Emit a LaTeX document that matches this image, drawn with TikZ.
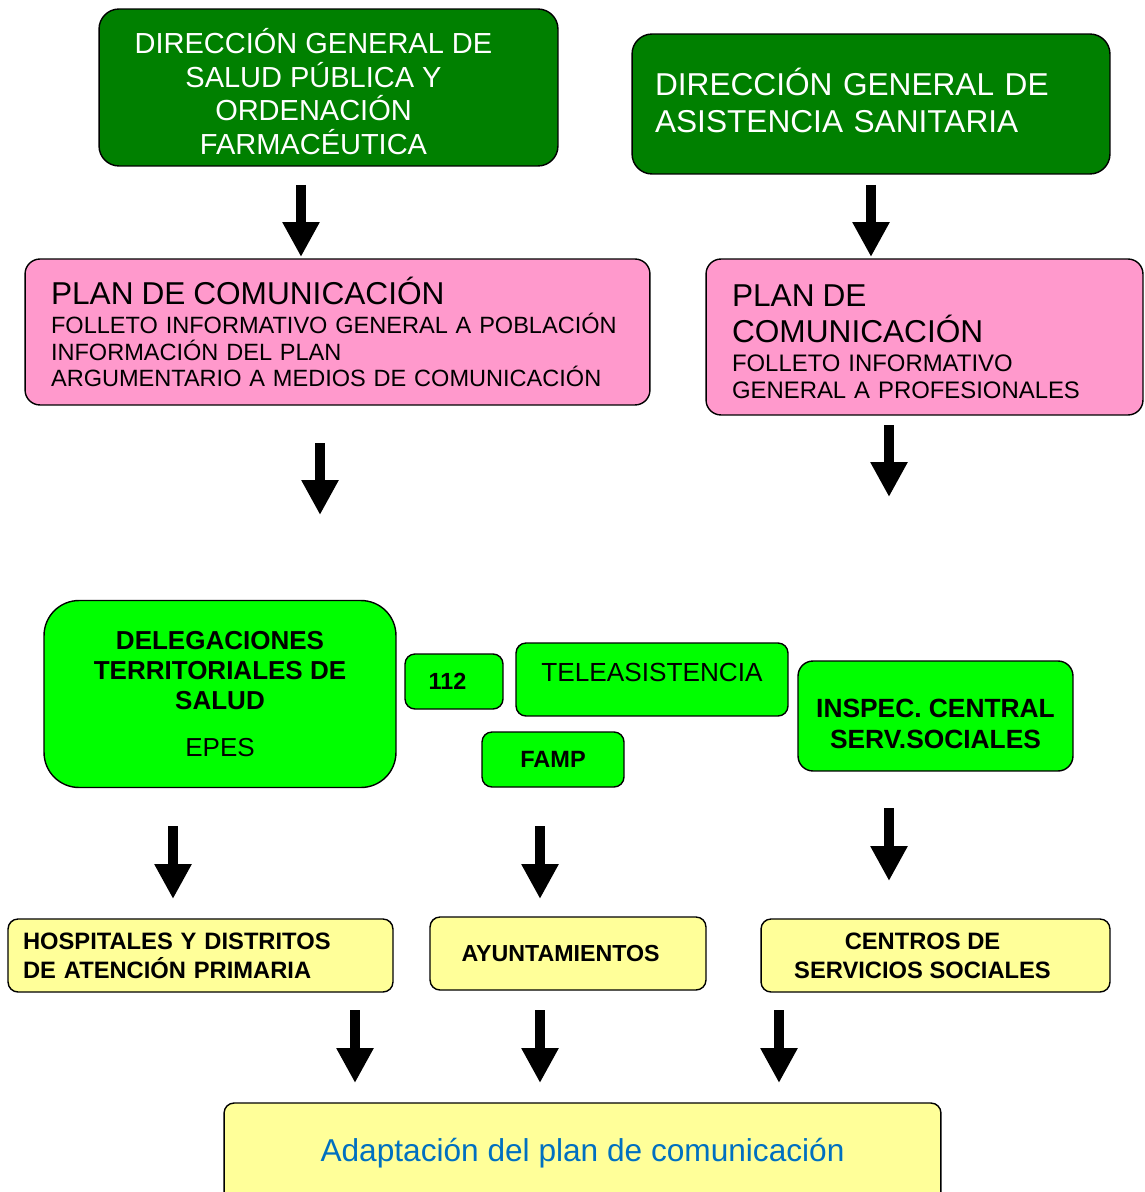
\documentclass[tikz,border=0pt]{standalone}
\usepackage{fontspec}
\setmainfont{Liberation Sans}
\usetikzlibrary{arrows.meta}
\definecolor{verdeosc}{RGB}{0,128,0}
\definecolor{verdelima}{RGB}{0,255,0}
\definecolor{rosa}{RGB}{255,153,204}
\definecolor{amarillo}{RGB}{255,255,153}
\definecolor{azul}{RGB}{0,112,192}

\tikzset{
  caja/.style={draw, line width=0.8pt, rounded corners=#1, inner sep=0pt},
  caja/.default=0.2cm,
  flecha/.style={line width=0.2cm, -{Triangle[length=0.7cm,width=0.7cm]}}
}
% linea con hueco a la derecha (texto algo a la izquierda)
\newcommand{\izq}[2]{\hbox{#2\kern#1}}

\begin{document}
\begin{tikzpicture}[x=0.02cm,y=-0.02cm]
\useasboundingbox (0,0) rectangle (1144,1192);
\clip (0,0) rectangle (1144,1192);

% direcciones generales
\node [caja=0.4cm, fill=verdeosc, text=white, align=center, minimum width=9.18cm, minimum height=3.14cm,
  font=\fontsize{16.5}{19.3}\selectfont] (dgsp) at (328.5,87.5)
  {\rule{0pt}{19pt}\izq{0.6cm}{DIRECCIÓN GENERAL DE}\\\izq{0.6cm}{SALUD PÚBLICA Y}\\\izq{0.6cm}{ORDENACIÓN}\\\izq{0.6cm}{FARMACÉUTICA}};
\node [caja=0.4cm, fill=verdeosc, text=white, align=left, text width=8.64cm, inner xsep=0.46cm, minimum height=2.8cm,
  font=\fontsize{18}{21}\selectfont] (dgas) at (871,104)
  {DIRECCIÓN GENERAL DE\\ASISTENCIA SANITARIA\rule[-4.5pt]{0pt}{1pt}};

% planes de comunicacion
\node [caja=0.3cm, fill=rosa, align=left, text width=11.46cm, inner xsep=0.52cm, minimum height=2.92cm,
  font=\fontsize{13.4}{15.3}\selectfont] (plan1) at (337.5,332)
  {{\fontsize{18}{21}\selectfont PLAN DE COMUNICACIÓN\par}\vspace{1.1pt}FOLLETO INFORMATIVO GENERAL A POBLACIÓN\\INFORMACIÓN DEL PLAN\\ARGUMENTARIO A MEDIOS DE COMUNICACIÓN};
\node [caja=0.3cm, fill=rosa, align=left, text width=7.7cm, inner xsep=0.52cm, minimum height=3.12cm,
  font=\fontsize{13.6}{15.3}\selectfont] (plan2) at (924.5,337)
  {{\fontsize{18}{20.4}\selectfont \rule{0pt}{18pt}PLAN DE\\COMUNICACIÓN\par}\vspace{1.1pt}FOLLETO INFORMATIVO\\GENERAL A PROFESIONALES};

% organismos
\node [caja=0.7cm, fill=verdelima, align=center, minimum width=7.04cm, minimum height=3.74cm,
  font=\fontsize{14.8}{17.2}\selectfont\bfseries] (deleg) at (220,694)
  {DELEGACIONES\\TERRITORIALES DE\\SALUD\\[9.2pt]{\mdseries EPES}};
\node [caja, fill=verdelima, minimum width=1.96cm, minimum height=1.1cm,
  font=\fontsize{13.3}{16}\selectfont\bfseries] (n112) at (454,681.5) {\izq{0.26cm}{112}};
\node [caja, fill=verdelima, minimum width=5.44cm, text height=0.76cm, text depth=0.7cm,
  font=\fontsize{14.9}{17}\selectfont] (tele) at (652,679.5) {TELEASISTENCIA};
\node [caja, fill=verdelima, minimum width=2.84cm, minimum height=1.1cm,
  font=\fontsize{13.4}{16}\selectfont\bfseries] (famp) at (553,759.5) {FAMP};
\node [caja=0.3cm, fill=verdelima, align=center, minimum width=5.5cm, minimum height=2.2cm,
  font=\fontsize{15}{17.6}\selectfont\bfseries] (inspec) at (935.5,716)
  {\rule{0pt}{19.7pt}INSPEC. CENTRAL\\SERV.SOCIALES};

% destinatarios
\node [caja, fill=amarillo, align=left, text width=7.1cm, inner xsep=0.3cm, minimum height=1.46cm,
  font=\fontsize{13.5}{16.4}\selectfont\bfseries] (hosp) at (200.5,955.5)
  {HOSPITALES Y DISTRITOS\\DE ATENCIÓN PRIMARIA};
\node [caja, fill=amarillo, minimum width=5.52cm, minimum height=1.46cm,
  font=\fontsize{13.2}{16}\selectfont\bfseries] (ayunt) at (568,953.5) {\izq{0.3cm}{AYUNTAMIENTOS}};
\node [caja, fill=amarillo, align=center, minimum width=6.98cm, minimum height=1.46cm,
  font=\fontsize{13.5}{16.4}\selectfont\bfseries] (centros) at (935.5,955.5)
  {\izq{0.52cm}{CENTROS DE}\\\izq{0.52cm}{SERVICIOS SOCIALES}};

\node [caja, fill=amarillo, text=azul, minimum width=14.34cm, minimum height=2cm,
  font=\fontsize{18}{21}\selectfont] (adapt) at (582.5,1153) {Adaptación del plan de comunicación};

% flechas
\foreach \n/\x/\ya/\yb in {1/301/185/257, 2/871/185/257, 3/320/443/515, 4/889/425/497,
  5/173/826/899, 6/540/826/899, 7/889/808/881, 8/355/1010/1083, 9/540/1010/1083, 10/779/1010/1083}{
  \coordinate (ini\n) at (\x,\ya);
  \coordinate (fin\n) at (\x,\yb);
  \draw [flecha] (ini\n) -- (fin\n);
}

\end{tikzpicture}
\end{document}
